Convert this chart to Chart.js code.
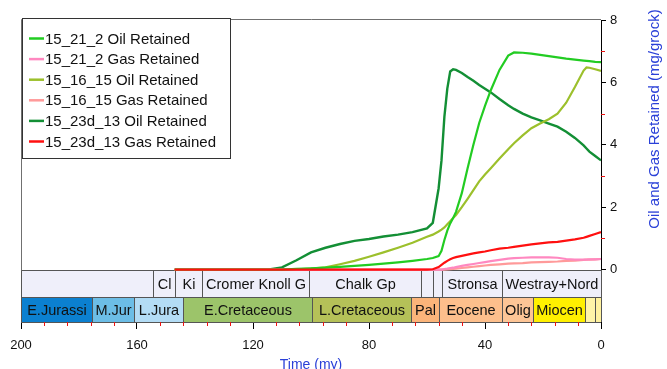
<!DOCTYPE html>
<html>
<head>
<meta charset="utf-8">
<script src="https://cdn.jsdelivr.net/npm/chart.js@4.4.1/dist/chart.umd.min.js"></script>
<style>
  body { margin: 0; background: #fff; }
  canvas { display: block; }
</style>
</head>
<body>
<canvas id="retained" width="667" height="369"></canvas>
<script>
// ages (my) at which the retained amounts were read
var ageMy = [147, 115, 110, 105, 100, 95, 90, 85, 80, 75, 70, 65, 60, 58, 56, 55, 54, 53, 52, 51,
             50, 48, 46, 44, 42, 40, 38, 35, 32, 30, 27, 24, 21, 18, 15, 12, 9, 6, 5, 4, 2, 0];

var oil21_2 = [0, 0, 0, 0.02, 0.04, 0.06, 0.09, 0.12, 0.15, 0.19, 0.23, 0.28, 0.34, 0.37, 0.43, 0.6, 0.95, 1.25, 1.48, 1.65,
               1.85, 2.45, 3.25, 4.0, 4.7, 5.25, 5.75, 6.4, 6.86, 6.96, 6.95, 6.92, 6.88, 6.84, 6.8, 6.76, 6.73, 6.7, 6.69, 6.68, 6.66, 6.65];
var gas21_2 = [0, 0, 0, 0, 0, 0, 0, 0, 0, 0, 0, 0, 0, 0, 0, 0, 0.02, 0.03, 0.05, 0.06,
               0.08, 0.12, 0.15, 0.18, 0.21, 0.24, 0.27, 0.31, 0.35, 0.37, 0.38, 0.39, 0.39, 0.39, 0.38, 0.34, 0.32, 0.32, 0.32, 0.33, 0.33, 0.34];
var oil16_15 = [0, 0, 0, 0.01, 0.03, 0.07, 0.17, 0.28, 0.41, 0.55, 0.7, 0.86, 1.05, 1.12, 1.22, 1.28, 1.35, 1.45, 1.55, 1.65,
                1.75, 2.0, 2.27, 2.55, 2.83, 3.05, 3.25, 3.56, 3.86, 4.05, 4.3, 4.53, 4.68, 4.82, 5.0, 5.35, 5.85, 6.38, 6.48, 6.47, 6.42, 6.37];
var gas16_15 = [0, 0, 0, 0, 0, 0, 0, 0, 0, 0, 0, 0, 0, 0, 0, 0, 0, 0.005, 0.01, 0.02,
                0.03, 0.05, 0.07, 0.09, 0.11, 0.13, 0.15, 0.17, 0.19, 0.2, 0.21, 0.23, 0.24, 0.25, 0.26, 0.28, 0.29, 0.31, 0.32, 0.32, 0.33, 0.34];
var oil23d_13 = [0, 0, 0.07, 0.3, 0.55, 0.7, 0.82, 0.92, 0.98, 1.06, 1.12, 1.2, 1.32, 1.5, 2.6, 3.5, 4.9, 5.8, 6.35, 6.42,
                 6.4, 6.3, 6.17, 6.05, 5.92, 5.8, 5.68, 5.47, 5.27, 5.15, 5.0, 4.88, 4.78, 4.68, 4.58, 4.42, 4.22, 3.98, 3.88, 3.78, 3.64, 3.5];
var gas23d_13 = [0, 0, 0, 0, 0, 0, 0, 0, 0, 0, 0, 0, 0, 0.01, 0.08, 0.15, 0.22, 0.28, 0.33, 0.37,
                 0.4, 0.44, 0.48, 0.52, 0.55, 0.58, 0.62, 0.67, 0.7, 0.73, 0.77, 0.81, 0.84, 0.87, 0.89, 0.93, 0.97, 1.02, 1.05, 1.08, 1.14, 1.2];

var seriesLabels = ['15_21_2 Oil Retained', '15_21_2 Gas Retained', '15_16_15 Oil Retained',
                    '15_16_15 Gas Retained', '15_23d_13 Oil Retained', '15_23d_13 Gas Retained'];

var xTicks = [200, 160, 120, 80, 40, 0];
var xMinorTicks = [192, 184, 176, 168, 152, 144, 136, 128, 112, 104, 96, 88, 72, 64, 56, 48, 32, 24, 16, 8];
var yTicks = [0, 2, 4, 6, 8];
var yMinorTicks = [1, 3, 5, 7];

// stratigraphy strips under the curves (ages in my)
var groupBounds = [200, 154.5, 146.9, 137.6, 100.7, 62.1, 58, 54.7, 34.1, 0];
var groupNames = ['', 'Cl', 'Ki', 'Cromer Knoll G', 'Chalk Gp', '', '', 'Stronsa', 'Westray+Nord'];
var ageBounds = [200, 175.4, 161.1, 144, 99.8, 65.5, 56, 34, 23.4, 5.5, 2.1, 0];
var ageNames = ['E.Jurassi', 'M.Jur', 'L.Jura', 'E.Cretaceous', 'L.Cretaceous', 'Pal', 'Eocene', 'Olig', 'Miocen', '', ''];

var ageColors = ['#0b80d0', '#6cbde6', '#b3dcf5', '#9cc46a', '#b5c158', '#fbb47a',
                 '#fdbf8c', '#fdc596', '#fff000', '#fff4a8', '#fff2a0'];
var lineColors = ['#22cc22', '#ff88c0', '#9cc02c', '#ff9a9a', '#138f35', '#ff1010'];

var FONT = '"Liberation Sans", Arial, sans-serif';
var BLUE = '#2a40d8';
var INK = '#111';

function points(vals) {
    return ageMy.map(function (t, i) { return { x: t, y: vals[i] }; });
}

var allSeries = [oil21_2, gas21_2, oil16_15, gas16_15, oil23d_13, gas23d_13];
var datasets = allSeries.map(function (vals, i) {
    return {
        label: seriesLabels[i],
        data: points(vals),
        borderColor: lineColors[i],
        backgroundColor: lineColors[i],
        borderWidth: i === 4 ? 2.4 : 2.2,
        pointRadius: 0,
        tension: 0,
        order: i === 5 ? 0 : 1
    };
});

var decor = {
    id: 'decor',
    beforeDatasetsDraw: function (chart) {
        var ctx = chart.ctx, a = chart.chartArea;
        var x = chart.scales.x, y = chart.scales.y;
        var y0 = Math.round(y.getPixelForValue(0)) + 0.5;
        var yb = Math.round(a.bottom) + 0.5;
        var ym = Math.round((y0 + yb) / 2) + 0.5;
        ctx.save();
        ctx.lineWidth = 1;
        ctx.strokeStyle = '#555';
        ctx.font = '14.5px ' + FONT;
        ctx.textAlign = 'center';
        ctx.textBaseline = 'middle';
        // formation groups
        ctx.fillStyle = '#efeffa';
        ctx.fillRect(a.left, y0, a.right - a.left, ym - y0);
        for (var i = 0; i < groupNames.length; i++) {
            var xl = Math.round(x.getPixelForValue(groupBounds[i])) + 0.5;
            var xr = Math.round(x.getPixelForValue(groupBounds[i + 1])) + 0.5;
            ctx.strokeRect(xl, y0, xr - xl, ym - y0);
            if (groupNames[i]) {
                ctx.fillStyle = INK;
                ctx.fillText(groupNames[i], (xl + xr) / 2, (y0 + ym) / 2 + 1);
            }
        }
        // ages
        for (var j = 0; j < ageNames.length; j++) {
            var al = Math.round(x.getPixelForValue(ageBounds[j])) + 0.5;
            var ar = Math.round(x.getPixelForValue(ageBounds[j + 1])) + 0.5;
            ctx.fillStyle = ageColors[j];
            ctx.fillRect(al, ym, ar - al, yb - ym);
            ctx.strokeRect(al, ym, ar - al, yb - ym);
            if (ageNames[j]) {
                ctx.fillStyle = INK;
                ctx.fillText(ageNames[j], (al + ar) / 2, (ym + yb) / 2 + 1);
            }
        }
        ctx.restore();
    },
    afterDraw: function (chart) {
        var ctx = chart.ctx, a = chart.chartArea;
        var x = chart.scales.x, y = chart.scales.y;
        var y0 = Math.round(y.getPixelForValue(0)) + 0.5;
        ctx.save();
        // frame
        ctx.lineWidth = 1;
        ctx.strokeStyle = '#707070';
        ctx.beginPath();
        ctx.moveTo(a.left + 0.5, y0);
        ctx.lineTo(a.left + 0.5, a.top - 0.5);
        ctx.lineTo(a.right, a.top - 0.5);
        ctx.stroke();
        // right axis runs down through the x tick zone
        ctx.strokeStyle = '#000';
        ctx.beginPath();
        ctx.moveTo(Math.round(a.right) + 0.5, a.bottom);
        ctx.lineTo(Math.round(a.right) + 0.5, a.bottom + 7);
        ctx.stroke();
        // minor ticks
        ctx.strokeStyle = '#ee1111';
        ctx.beginPath();
        xMinorTicks.forEach(function (t) {
            var px = Math.round(x.getPixelForValue(t)) + 0.5;
            ctx.moveTo(px, a.bottom);
            ctx.lineTo(px, a.bottom + 4);
        });
        yMinorTicks.forEach(function (v) {
            var py = Math.round(y.getPixelForValue(v)) + 0.5;
            ctx.moveTo(a.right, py);
            ctx.lineTo(a.right + 4, py);
        });
        ctx.stroke();
        // right axis title
        ctx.fillStyle = BLUE;
        ctx.font = '15px ' + FONT;
        ctx.textAlign = 'center';
        ctx.textBaseline = 'middle';
        ctx.translate(655, 119);
        ctx.rotate(-Math.PI / 2);
        ctx.fillText('Oil and Gas Retained (mg/grock)', 0, 0);
        ctx.restore();

        // legend box
        ctx.save();
        ctx.fillStyle = '#fff';
        ctx.fillRect(22, 18, 208, 140);
        ctx.strokeStyle = '#333';
        ctx.lineWidth = 1;
        ctx.strokeRect(22.5, 18.5, 208, 140);
        ctx.font = '15px ' + FONT;
        ctx.textAlign = 'left';
        ctx.textBaseline = 'middle';
        chart.data.datasets.forEach(function (ds, i) {
            var ry = 38.5 + i * 20.6;
            ctx.strokeStyle = ds.borderColor;
            ctx.lineWidth = 2.5;
            ctx.beginPath();
            ctx.moveTo(29, ry);
            ctx.lineTo(44, ry);
            ctx.stroke();
            ctx.fillStyle = INK;
            ctx.fillText(ds.label, 45, ry + 1);
        });
        ctx.restore();
    }
};

new Chart(document.getElementById('retained'), {
    type: 'line',
    data: { datasets: datasets },
    plugins: [decor],
    options: {
        responsive: false,
        animation: false,
        layout: { padding: { left: 21, top: 20, right: 0, bottom: 0 } },
        plugins: {
            legend: { display: false },
            tooltip: { enabled: false }
        },
        scales: {
            x: {
                type: 'linear',
                position: 'bottom',
                reverse: true,
                min: 0,
                max: 200,
                afterFit: function (s) { s.height = 47; },
                afterBuildTicks: function (s) {
                    s.ticks = xTicks.map(function (v) { return { value: v }; });
                },
                grid: { drawOnChartArea: false, tickLength: 7, color: '#000' },
                border: { color: '#000', width: 1 },
                ticks: {
                    color: INK,
                    font: { size: 13, family: FONT },
                    padding: 9,
                    maxRotation: 0
                },
                title: {
                    display: true,
                    text: 'Time (my)',
                    color: BLUE,
                    font: { size: 14, family: FONT },
                    padding: { top: 0, bottom: -5 }
                }
            },
            y: {
                position: 'right',
                min: -1.68,
                max: 8,
                afterFit: function (s) { s.width = 66; },
                afterBuildTicks: function (s) {
                    s.ticks = yTicks.map(function (v) { return { value: v }; });
                },
                grid: { drawOnChartArea: false, tickLength: 5, color: '#000' },
                border: { color: '#000', width: 1 },
                ticks: {
                    color: INK,
                    font: { size: 13, family: FONT },
                    padding: 4
                }
            }
        }
    }
});
</script>
</body>
</html>
